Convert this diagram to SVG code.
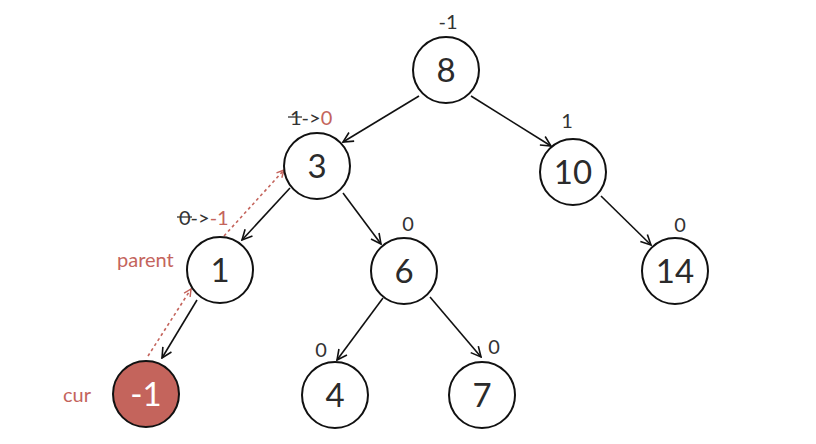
<svg xmlns="http://www.w3.org/2000/svg" width="816" height="444" viewBox="0 0 816 444">
<style>
.node{fill:#fff;stroke:#111;stroke-width:2}
.cur{fill:#c4645c;stroke:#111;stroke-width:2}
.num{font-family:Lato,"Noto Sans",sans-serif;font-size:33px;fill:#2b2b2b;text-anchor:middle}
.lbl{font-family:Lato,"Noto Sans",sans-serif;font-size:20px;fill:#333}
.red{fill:#c4645c}
.edge{stroke:#111;stroke-width:1.6;fill:none;marker-end:url(#ah)}
.dash{stroke:#c4645c;stroke-width:1.6;fill:none;stroke-dasharray:3 3;marker-end:url(#ahr)}
</style>
<defs>
<marker id="ah" viewBox="0 0 12 12" refX="11" refY="6" markerWidth="12" markerHeight="12" markerUnits="userSpaceOnUse" orient="auto">
<path d="M1,1 L11,6 L1,11" fill="none" stroke="#111" stroke-width="1.6"/>
</marker>
<marker id="ahr" viewBox="0 0 10 10" refX="9" refY="5" markerWidth="9" markerHeight="9" markerUnits="userSpaceOnUse" orient="auto">
<path d="M1,1 L9,5 L1,9" fill="none" stroke="#c4645c" stroke-width="1.6"/>
</marker>
</defs>
<g id="connectors">
<line class="edge" x1="419" y1="96" x2="343" y2="142"/>
<line class="edge" x1="471" y1="96" x2="551" y2="146"/>
<line class="edge" x1="290" y1="188" x2="242" y2="240"/>
<line class="edge" x1="343" y1="193" x2="381" y2="244"/>
<line class="edge" x1="197" y1="300" x2="162" y2="358"/>
<line class="edge" x1="383" y1="298" x2="337" y2="360"/>
<line class="edge" x1="430" y1="297" x2="481" y2="357"/>
<line class="edge" x1="601" y1="196" x2="651" y2="245"/>
<line class="dash" x1="148" y1="356" x2="191" y2="289"/>
<line class="dash" x1="224" y1="236" x2="284" y2="170"/>
</g>
<g id="n8"><circle class="node" cx="446" cy="70" r="33"/><text class="num" x="446" y="82">8</text><text class="lbl" x="448" y="29" text-anchor="middle" font-size="18">-1</text></g>
<g id="n3"><circle class="node" cx="317" cy="166" r="33"/><text class="num" x="317" y="178">3</text>
<text class="lbl" x="290" y="125">1-&gt;<tspan class="red">0</tspan></text><line x1="288" y1="117" x2="302" y2="117" stroke="#333" stroke-width="1.3"/></g>
<g id="n10"><circle class="node" cx="573" cy="172" r="33"/><text class="num" x="573" y="184">10</text><text class="lbl" x="567" y="128" text-anchor="middle">1</text></g>
<g id="n1"><circle class="node" cx="220" cy="270" r="33"/><text class="num" x="220" y="282">1</text>
<text class="lbl" x="179" y="225">0-&gt;<tspan class="red">-1</tspan></text><line x1="177" y1="217" x2="192" y2="217" stroke="#333" stroke-width="1.3"/>
<text class="lbl red" x="117" y="267" font-size="23">parent</text></g>
<g id="n6"><circle class="node" cx="404" cy="271" r="33"/><text class="num" x="404" y="283">6</text><text class="lbl" x="408" y="231" text-anchor="middle">0</text></g>
<g id="n14"><circle class="node" cx="675" cy="271" r="33"/><text class="num" x="675" y="283">14</text><text class="lbl" x="680" y="232" text-anchor="middle">0</text></g>
<g id="nm1"><circle class="cur" cx="146" cy="394" r="33"/><text class="num" x="146" y="406" style="fill:#fff">-1</text>
<text class="lbl red" x="63" y="402" font-size="24">cur</text></g>
<g id="n4"><circle class="node" cx="335" cy="395" r="33"/><text class="num" x="335" y="407">4</text><text class="lbl" x="321" y="357" text-anchor="middle">0</text></g>
<g id="n7"><circle class="node" cx="482" cy="395" r="33"/><text class="num" x="482" y="407">7</text><text class="lbl" x="494" y="354" text-anchor="middle">0</text></g>
</svg>
